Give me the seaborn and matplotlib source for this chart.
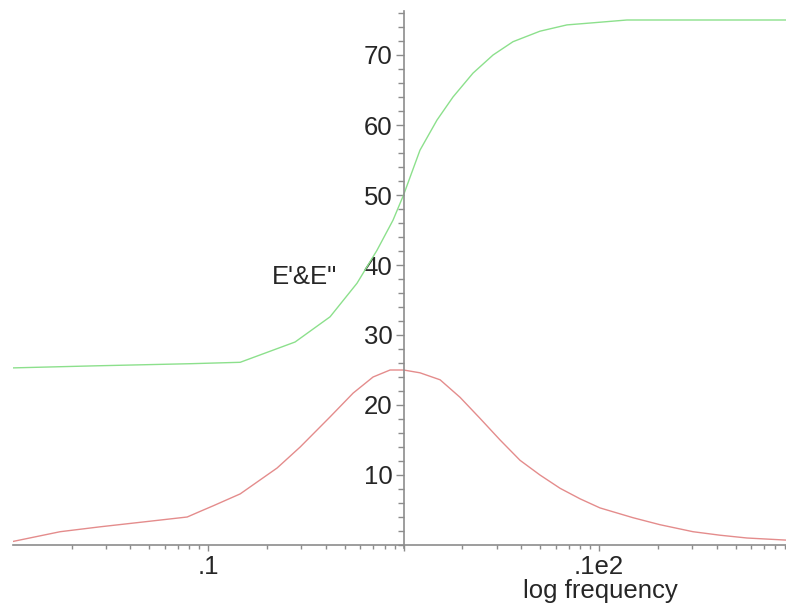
import numpy as np
import pandas as pd
import matplotlib
matplotlib.use("Agg")
import matplotlib.pyplot as plt
import seaborn as sns
from matplotlib.ticker import FixedLocator, FixedFormatter, LogLocator, MultipleLocator, NullFormatter

# values (x given as log10 of frequency)
red_logf = [-2.0, -1.757, -1.552, -1.297, -1.107, -1.041, -0.974, -0.836, -0.647,
            -0.529, -0.376, -0.258, -0.156, -0.069, 0.0, 0.084, 0.187, 0.289, 0.391,
            0.494, 0.596, 0.698, 0.801, 0.903, 1.005, 1.174, 1.312, 1.481, 1.619,
            1.757, 1.957]
e_loss = [0.5, 1.9, 2.6, 3.4, 4.0, 4.8, 5.6, 7.3, 11.0, 14.0, 18.3, 21.7, 24.0, 25.0,
          25.0, 24.6, 23.6, 21.1, 18.1, 15.0, 12.1, 10.0, 8.1, 6.6, 5.3, 3.9, 2.9, 1.9,
          1.4, 1.0, 0.7]

green_logf = [-2.0, -1.57, -1.09, -0.836, -0.555, -0.376, -0.238, -0.136, -0.054, 0.0,
              0.084, 0.171, 0.253, 0.355, 0.458, 0.560, 0.698, 0.836, 0.969, 1.143, 1.957]
e_storage = [25.3, 25.6, 25.9, 26.1, 29.0, 32.6, 37.4, 42.1, 46.4, 50.0, 56.4, 60.7,
             64.0, 67.4, 70.0, 71.9, 73.4, 74.3, 74.6, 75.0, 75.0]

x_ticks = [0.1, 1, 10]
x_ticklabels = [".1", "", ".1e2"]
y_ticks = [10, 20, 30, 40, 50, 60, 70]

sns.set_style("white")
plt.rcParams["font.family"] = ["Liberation Sans", "DejaVu Sans"]

red = pd.DataFrame({"f": 10 ** np.array(red_logf), "E": e_loss})
green = pd.DataFrame({"f": 10 ** np.array(green_logf), "E": e_storage})

fig = plt.figure(figsize=(7.86, 6.04), dpi=100)
ax = fig.add_axes([12.7 / 786, 59 / 604, 1 - 12.7 / 786, 545 / 604])

sns.lineplot(data=red, x="f", y="E", ax=ax, color="#e48c8c", linewidth=1.0, sort=False)
sns.lineplot(data=green, x="f", y="E", ax=ax, color="#8ce08c", linewidth=1.0, sort=False)

ax.set_xscale("log")
ax.set_xlim(10 ** -2.0, 10 ** 1.957)
ax.set_ylim(0, 545 / 7)

axis_col = "#8c8c8c"
for s in ["top", "right"]:
    ax.spines[s].set_visible(False)
ax.spines["left"].set_position(("data", 1))
ax.spines["left"].set_bounds(-0.4, 76.3)
ax.spines["left"].set_color(axis_col)
ax.spines["bottom"].set_color(axis_col)
ax.spines["left"].set_linewidth(1.2)
ax.spines["bottom"].set_linewidth(1.2)

ax.xaxis.set_major_locator(FixedLocator(x_ticks))
ax.xaxis.set_major_formatter(FixedFormatter(x_ticklabels))
ax.xaxis.set_minor_locator(LogLocator(base=10, subs=np.arange(2, 10)))
ax.xaxis.set_minor_formatter(NullFormatter())
ax.yaxis.set_major_locator(FixedLocator(y_ticks))
ax.yaxis.set_minor_locator(MultipleLocator(2))

ax.tick_params(axis="both", which="both", direction="out", color=axis_col,
               labelsize=18.5, labelcolor="#262626", width=1.0,
               bottom=True, left=True)
ax.tick_params(axis="x", which="major", length=4, pad=3.5)
ax.tick_params(axis="x", which="minor", length=3)
ax.tick_params(axis="y", which="major", length=6, pad=2)
ax.tick_params(axis="y", which="minor", length=4)

ax.set_xlabel("log frequency", fontsize=18.5, color="#262626")
ax.xaxis.set_label_coords((600 - 12.7) / (786 - 12.7), -(598 - 545) / 545)
ax.xaxis.label.set_va("baseline")
ax.set_ylabel("E'&E\"", fontsize=18.5, color="#262626", rotation=0)
ax.yaxis.set_label_coords((305 - 12.7) / (786 - 12.7), (545 - 277) / 545)
ax.yaxis.label.set_va("center")
ax.yaxis.label.set_ha("center")

ax.patch.set_alpha(0)
fig.savefig("out.png", dpi=100, facecolor="white")
